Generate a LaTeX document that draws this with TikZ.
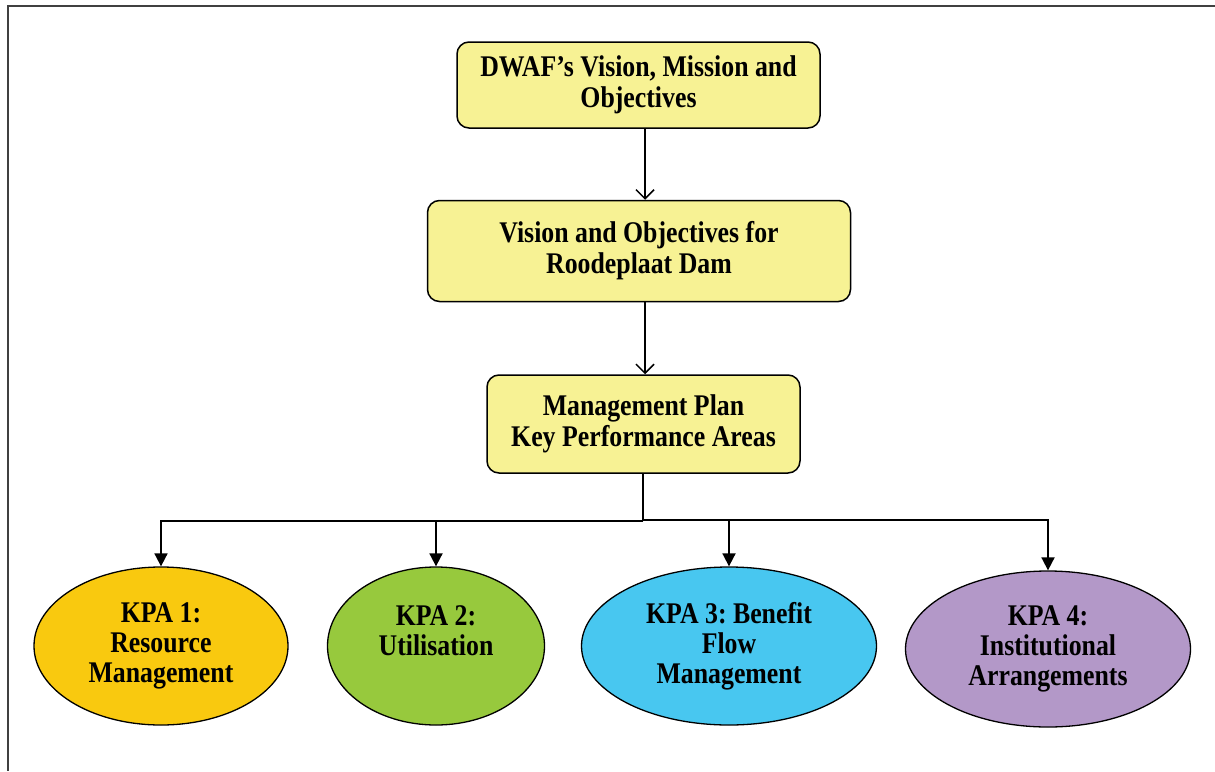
\documentclass[tikz,border=0pt]{standalone}
\usepackage{fontspec}
\setmainfont{Liberation Serif}
\newfontfamily\condserif[FakeStretch=0.86]{Liberation Serif}
\usetikzlibrary{shapes.geometric,arrows.meta}
\definecolor{boxyellow}{HTML}{F7F294}
\definecolor{kpaone}{HTML}{F9C90F}
\definecolor{kpatwo}{HTML}{97C93D}
\definecolor{kpathree}{HTML}{48C7F0}
\definecolor{kpafour}{HTML}{B398C8}
\frenchspacing
\tikzset{
  lvlbox/.style={draw=black, line width=1.5pt, fill=boxyellow, rounded corners=12pt,
    align=center, inner sep=0pt, font=\condserif\fontsize{30}{31}\selectfont\bfseries\frenchspacing},
  kpa/.style={ellipse, draw=black, line width=1.3pt, inner sep=0pt, align=center,
    font=\condserif\fontsize{30}{30}\selectfont\bfseries\frenchspacing},
  barb/.style={line width=1.5pt, -{Straight Barb[length=9pt,width=18pt,line width=1.5pt]}},
  tri/.style={line width=1.8pt, -{Triangle[length=13pt,width=13pt]}},
  plain/.style={line width=1.8pt},
  frameline/.style={line width=2.5pt, draw=black!75}
}
\begin{document}
\begin{tikzpicture}[x=1pt,y=-1pt]
\useasboundingbox (0,0) rectangle (1215,771);
\fill[white] (0,0) rectangle (1215,771);
% frame
\coordinate (ftl) at (8,6);
\coordinate (ftr) at (1215,6);
\coordinate (fbl) at (8,771);
\draw[frameline] (ftr) -- (ftl) -- (fbl);

\node[lvlbox, minimum width=363pt, minimum height=86pt] (b1) at (638.5,85) {DWAF’s Vision, Mission and\\Objectives};
\node[lvlbox, minimum width=423pt, minimum height=101pt] (b2) at (639,251) {Vision and Objectives for\\Roodeplaat Dam};
\node[lvlbox, minimum width=313pt, minimum height=98pt] (b3) at (643.5,424) {Management Plan\\Key Performance Areas};

\node[kpa, fill=kpaone, minimum width=254pt, minimum height=158pt] (e1) at (161,646) {KPA 1:\\Resource\\Management};
\node[kpa, fill=kpatwo, minimum width=217pt, minimum height=158pt] (e2) at (436,646) {KPA 2:\\Utilisation\\\mbox{}};
\node[kpa, fill=kpathree, minimum width=295pt, minimum height=158pt] (e3) at (729,646) {KPA 3: Benefit\\Flow\\Management};
\node[kpa, fill=kpafour, minimum width=285pt, minimum height=156pt] (e4) at (1048,649) {KPA 4:\\Institutional\\Arrangements};

\coordinate (ax) at (645,0);
\draw[barb] (b1.south -| ax) -- (b2.north -| ax);
\draw[barb] (b2.south -| ax) -- (b3.north -| ax);

\coordinate (j) at (643,521);
\draw[plain] (b3.south -| j) -- (j);
\draw[tri] (j) -| (e1.north);
\draw[tri] (j) -| (e2.north);
\draw[tri] ([yshift=1pt]j) -| (e3.north);
\draw[tri] ([yshift=1pt]j) -| (e4.north);
\end{tikzpicture}
\end{document}
